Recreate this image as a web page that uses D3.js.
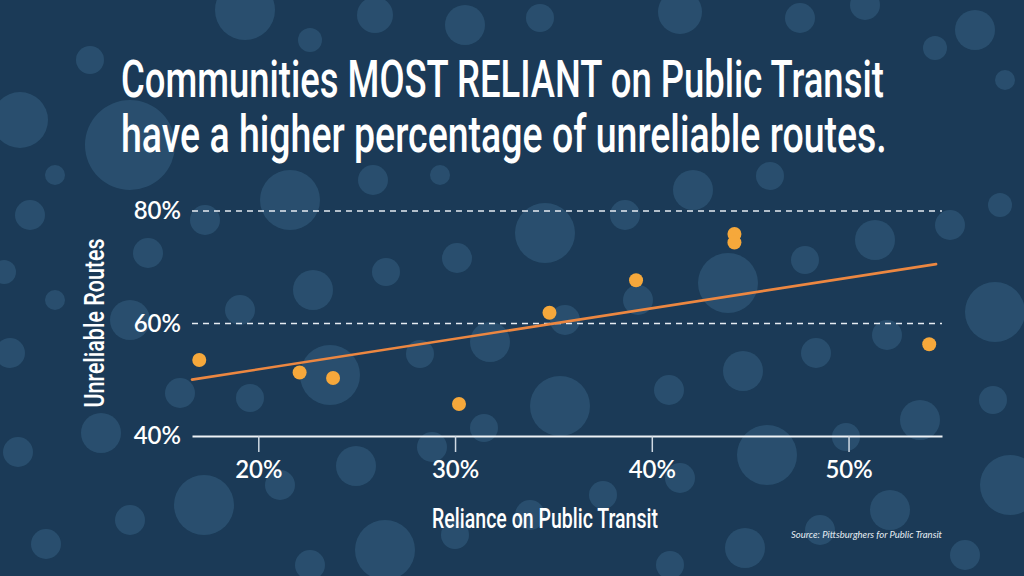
<!DOCTYPE html>
<html>
<head>
<meta charset="utf-8">
<script src="https://cdn.jsdelivr.net/npm/d3@7"></script>
<style>
  html, body { margin: 0; padding: 0; background: #1b3a57; }
  svg { display: block; }
  .tick text { font-family: Lato, "Open Sans", sans-serif; }
</style>
</head>
<body>
<div id="chart"></div>
<script>
// chart data (percent)
var reliance   = [17.0, 22.1, 23.8, 30.2, 34.8, 39.2, 44.2, 44.2, 54.1];
var unreliable = [53.5, 51.3, 50.3, 45.7, 61.9, 67.7, 75.9, 74.4, 56.3];
var xTicks = [20, 30, 40, 50];
var yTicks = [40, 60, 80];
var titleLines = ["Communities MOST RELIANT on Public Transit",
                  "have a higher percentage of unreliable routes."];

// background bubbles (decoration only) : cx, cy, r
var bubbles = [
  [245,10,30],[310,40,12],[375,15,18],[465,25,20],[540,18,14],[680,12,22],[800,18,15],[865,5,15],
  [975,30,20],[1005,80,10],[935,48,12],[90,60,14],[20,120,28],[55,175,10],[30,215,15],[130,145,45],
  [205,220,15],[290,200,30],[373,180,15],[440,175,10],[545,233,30],[625,215,15],[693,190,20],
  [770,176,14],[805,260,14],[875,240,20],[950,225,15],[1000,205,12],[728,283,30],[148,253,15],
  [4,272,12],[130,320,20],[240,310,15],[313,290,20],[386,272,14],[457,258,15],[638,300,15],
  [565,320,15],[490,342,20],[420,354,14],[330,375,30],[250,398,14],[180,393,15],[995,312,30],
  [887,335,15],[816,353,15],[743,371,20],[669,390,15],[560,406,30],[484,428,14],[432,447,15],
  [356,466,20],[280,485,15],[204,505,30],[130,520,15],[101,433,20],[18,452,15],[46,544,15],
  [10,353,15],[767,455,30],[846,437,14],[920,420,20],[993,400,14],[1010,485,30],[680,478,15],
  [603,495,14],[530,515,15],[455,535,14],[385,550,30],[310,565,15],[890,510,20],[820,530,15],
  [745,548,20],[670,565,14],[965,555,15],[55,300,10]
];

var svgWidth = 1024;
var svgHeight = 576;

var margin = { top: 211, right: 82, bottom: 140, left: 192 };
var width = svgWidth - margin.left - margin.right;
var height = svgHeight - margin.top - margin.bottom;

var svg = d3.select("#chart")
  .append("svg")
  .attr("width", svgWidth)
  .attr("height", svgHeight);

svg.append("rect")
  .attr("width", svgWidth)
  .attr("height", svgHeight)
  .attr("fill", "#1b3a57");

svg.append("g").selectAll("circle")
  .data(bubbles)
  .enter()
  .append("circle")
  .attr("cx", d => d[0])
  .attr("cy", d => d[1])
  .attr("r", d => d[2])
  .attr("fill", "#2c5272")
  .attr("opacity", 0.85);

// the original uses a condensed face; squeeze Roboto horizontally to the same width
var condensed = 'Roboto, "Noto Sans", sans-serif';
function squeeze(sel, x, y, targetWidth, rotate) {
  sel.each(function() {
    var w = this.getComputedTextLength();
    var k = targetWidth / w;
    d3.select(this).attr("transform",
      `translate(${x}, ${y})` + (rotate ? ` rotate(${rotate})` : "") + ` scale(${k}, 1)`);
  });
}

var titleG = svg.append("g");
titleLines.forEach(function(line, i) {
  var t = titleG.append("text")
    .attr("fill", "#ffffff")
    .style("font-family", condensed)
    .style("font-weight", 500)
    .style("font-size", "52px")
    .text(line);
  squeeze(t, 121, 97 + i * 55, i === 0 ? 763 : 766);
});

var chartGroup = svg.append("g")
  .attr("transform", `translate(${margin.left}, ${margin.top})`);

var xScale = d3.scaleLinear()
  .domain([16.63, 54.75])
  .range([0, width]);

var yScale = d3.scaleLinear()
  .domain([40, 80])
  .range([height, 0]);

// dashed gridlines
chartGroup.append("g")
  .selectAll("line")
  .data(yTicks.filter(t => t > 40))
  .enter()
  .append("line")
  .attr("x1", 0)
  .attr("x2", width)
  .attr("y1", d => yScale(d))
  .attr("y2", d => yScale(d))
  .attr("stroke", "#e6ecf2")
  .attr("stroke-width", 1.3)
  .attr("stroke-dasharray", "6,5");

// x axis
var bottomAxis = d3.axisBottom(xScale)
  .tickValues(xTicks)
  .tickSizeInner(16)
  .tickSizeOuter(0)
  .tickPadding(9)
  .tickFormat(d => d + "%");

var xAxis = chartGroup.append("g")
  .attr("transform", `translate(0, ${height})`)
  .call(bottomAxis);
xAxis.select(".domain").attr("stroke", "#eef2f6").attr("stroke-width", 2);
xAxis.selectAll(".tick line").attr("stroke", "#cfd9e3").attr("stroke-width", 1.5);
xAxis.selectAll(".tick text").attr("fill", "#ffffff")
  .style("font-size", "24px").style("font-weight", 600);

// y axis
var leftAxis = d3.axisLeft(yScale)
  .tickValues(yTicks)
  .tickSize(0)
  .tickPadding(11)
  .tickFormat(d => d + "%");

var yAxis = chartGroup.append("g").call(leftAxis);
yAxis.select(".domain").remove();
yAxis.selectAll(".tick text").attr("fill", "#ffffff")
  .style("font-size", "24px").style("font-weight", 600);

// trend line (least squares fit of the points)
var mx = d3.mean(reliance), my = d3.mean(unreliable);
var sxy = d3.sum(reliance, (x, i) => (x - mx) * (unreliable[i] - my));
var sxx = d3.sum(reliance, x => (x - mx) * (x - mx));
var slope = sxy / sxx;
var intercept = my - slope * mx;
var trendX = [16.63, 54.45];

chartGroup.append("line")
  .attr("x1", xScale(trendX[0]))
  .attr("y1", yScale(intercept + slope * trendX[0]))
  .attr("x2", xScale(trendX[1]))
  .attr("y2", yScale(intercept + slope * trendX[1]))
  .attr("stroke", "#ec8741")
  .attr("stroke-width", 2.6)
  .attr("stroke-linecap", "round");

// points
chartGroup.selectAll(".pt")
  .data(reliance)
  .enter()
  .append("circle")
  .attr("class", "pt")
  .attr("cx", d => xScale(d))
  .attr("cy", (d, i) => yScale(unreliable[i]))
  .attr("r", 7)
  .attr("fill", "#f6a83b");

// axis labels
var yLabel = svg.append("text")
  .attr("text-anchor", "middle")
  .attr("fill", "#ffffff")
  .style("font-family", condensed)
  .style("font-weight", 500)
  .style("font-size", "28px")
  .text("Unreliable Routes");
squeeze(yLabel, 104, 323, 169, -90);

var xLabel = svg.append("text")
  .attr("text-anchor", "middle")
  .attr("fill", "#ffffff")
  .style("font-family", condensed)
  .style("font-weight", 500)
  .style("font-size", "28px")
  .text("Reliance on Public Transit");
squeeze(xLabel, 545, 528, 226);

svg.append("text")
  .attr("x", 942)
  .attr("y", 538)
  .attr("text-anchor", "end")
  .attr("fill", "#e8eef4")
  .style("font-family", "Lato, sans-serif")
  .style("font-style", "italic")
  .style("font-size", "9.5px")
  .text("Source: Pittsburghers for Public Transit");
</script>
</body>
</html>
